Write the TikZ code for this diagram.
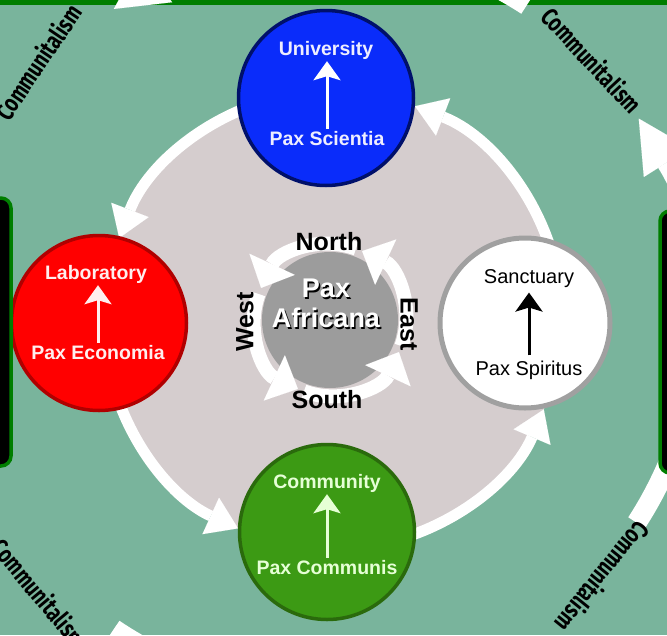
\documentclass[tikz,border=0pt]{standalone}
\usepackage{fontspec}
\setmainfont{Liberation Sans}
\newfontfamily\commfont{Fira Sans}
\usetikzlibrary{arrows.meta}
\definecolor{bg}{HTML}{79B49C}
\definecolor{disk}{HTML}{D5CDCE}
\definecolor{topgreen}{HTML}{007E00}
\definecolor{univfill}{HTML}{0A2CFA}
\definecolor{univborder}{HTML}{00106A}
\definecolor{univtext}{HTML}{EEEEFF}
\definecolor{labfill}{HTML}{FF0000}
\definecolor{labborder}{HTML}{B00000}
\definecolor{labtext}{HTML}{FFEEEE}
\definecolor{commfill}{HTML}{3C9A14}
\definecolor{commborder}{HTML}{2A6A0C}
\definecolor{commtext}{HTML}{E6FFD6}
\definecolor{sancborder}{HTML}{A0A0A0}
\definecolor{cgrey}{HTML}{9C9C9C}
\begin{document}
\begin{tikzpicture}[x=1pt,y=-1pt,
  lbl/.style={font=\bfseries\fontsize{19.5}{19.5}\selectfont, inner sep=0pt, text height=14pt, text depth=4pt},
  lblreg/.style={font=\fontsize{20}{20}\selectfont, inner sep=0pt, text height=14.5pt, text depth=4.2pt},
  uparrow/.style={line width=3pt, -{Stealth[width=27pt,length=19pt,inset=4pt]}, shorten <=2pt, shorten >=2pt},
  ringarrow/.style={white, line width=11pt, -{Triangle[width=40pt,length=30pt,line width=0.01pt]}},
  smallarrow/.style={white, line width=14pt, -{Triangle[width=50pt,length=26pt,line width=0.01pt]}},
  outerarrow/.style={white, line width=20pt, -{Triangle[width=54pt,length=52pt,line width=0.01pt]}},
  compass/.style={font=\bfseries\fontsize{25}{25}\selectfont, inner sep=0pt},
  commlabel/.style={font=\commfont\bfseries\fontsize{25}{25}\selectfont, inner sep=0pt},
  paxcircle/.style={circle, line width=3.5pt, minimum size=175pt, inner sep=0pt},
  sidebox/.style={draw=topgreen, fill=black, line width=3.5pt, rounded corners=10pt, minimum width=40pt},
]
\useasboundingbox (0,0) rectangle (667,635);
\clip (0,0) rectangle (667,635);
\fill[bg] (0,0) rectangle (667,635);
\fill[topgreen] (-10,-10) rectangle (677,5);

% outer ring of arrows
\coordinate (oc) at (323,319);
\draw[outerarrow] ([shift={(33:374)}]oc) arc[start angle=33, end angle=-32.4, radius=374];
\draw[outerarrow] ([shift={(-57:374)}]oc) arc[start angle=-57, end angle=-124, radius=374];
\draw[outerarrow] ([shift={(-236:374)}]oc) arc[start angle=-236, end angle=-299, radius=374];

\node[commlabel, rotate=56] (ctl) at (38,62) {\scalebox{0.75}[1]{Communitalism}};
\node[commlabel, rotate=-47] (ctr) at (592,60) {\scalebox{0.75}[1]{Communitalism}};
\node[commlabel, rotate=231] (cbr) at (603,577) {\scalebox{0.75}[1]{Communitalism}};
\node[commlabel, rotate=-50] (cbl) at (40,593) {\scalebox{0.75}[1]{Communitalism}};

% big disk and its ring of arrows
\coordinate (bc) at (333,320);
\fill[disk] (bc) circle[radius=229];
\draw[ringarrow] ([shift={(-100:229)}]bc) arc[start angle=-100, end angle=-159, radius=229];
\draw[ringarrow] ([shift={(-190:229)}]bc) arc[start angle=-190, end angle=-245.5, radius=229];
\draw[ringarrow] ([shift={(-280:229)}]bc) arc[start angle=-280, end angle=-337, radius=229];
\draw[ringarrow] ([shift={(-10:229)}]bc) arc[start angle=-10, end angle=-69, radius=229];

% centre
\coordinate (cc) at (330,320);
\fill[cgrey] (cc) circle[radius=68];
\draw[smallarrow] ([shift={(-70:76)}]cc) arc[start angle=-70, end angle=-155, radius=76];
\draw[smallarrow] ([shift={(-160:76)}]cc) arc[start angle=-160, end angle=-245, radius=76];
\draw[smallarrow] ([shift={(-250:76)}]cc) arc[start angle=-250, end angle=-335, radius=76];
\draw[smallarrow] ([shift={(-340:76)}]cc) arc[start angle=-340, end angle=-425, radius=76];

\node[compass] (north) at (329,242) {North};
\node[compass] (south) at (327,400) {South};
\node[compass, rotate=90] (west) at (245,322) {West};
\node[compass, rotate=-90] (east) at (409,324) {East};
\node[font=\bfseries\fontsize{27}{30}\selectfont, align=center, text=black, inner sep=0pt] (paxs) at (327.5,305) {Pax\\Africana};
\node[font=\bfseries\fontsize{27}{30}\selectfont, align=center, text=white, inner sep=0pt] (pax) at (326,303) {Pax\\Africana};

% the four circles
\node[paxcircle, fill=univfill, draw=univborder] (univ) at (326,98) {};
\node[paxcircle, fill=labfill, draw=labborder] (lab) at (99,323) {};
\node[paxcircle, fill=commfill, draw=commborder] (comm) at (327,532) {};
\node[paxcircle, fill=white, draw=sancborder, line width=5pt, minimum size=170pt] (sanc) at (525,323) {};

\node[lbl, text=univtext] (ut) at (326,50) {University};
\node[lbl, text=univtext] (ub) at (327,140) {Pax Scientia};
\draw[uparrow, white] (ub.north) -- (ub.north |- ut.south);

\node[lbl, text=labtext] (lt) at (96,274) {Laboratory};
\node[lbl, text=labtext] (lb) at (98,354) {Pax Economia};
\draw[uparrow, labtext] (lb.north) -- (lb.north |- lt.south);

\node[lbl, text=commtext] (mt) at (327,483) {Community};
\node[lbl, text=commtext] (mb) at (327,569) {Pax Communis};
\draw[uparrow, commtext] (mb.north) -- (mb.north |- mt.south);

\node[lblreg, text=black] (st) at (529,278) {Sanctuary};
\node[lblreg, text=black] (sb) at (529,370) {Pax Spiritus};
\draw[uparrow, black, shorten <=5pt, shorten >=5pt] (sb.north) -- (sb.north |- st.south);

% side boxes
\node[sidebox, minimum height=268pt] (lbox) at (-9,332) {};
\node[sidebox, minimum height=262pt] (rbox) at (680,342) {};
\end{tikzpicture}
\end{document}
